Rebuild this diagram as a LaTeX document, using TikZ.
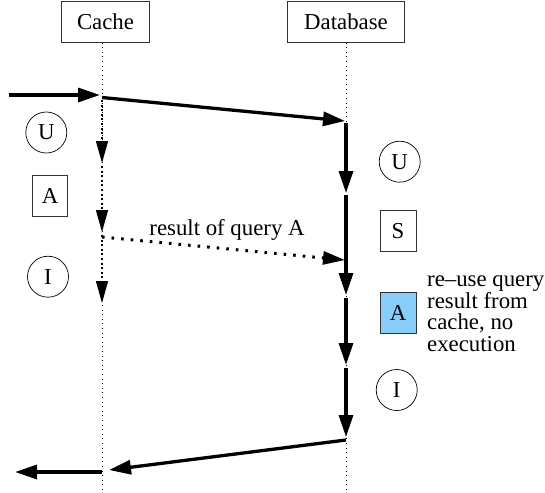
\documentclass[tikz,border=0pt]{standalone}
\usepackage{fontspec}
\setmainfont{Liberation Serif}
\usetikzlibrary{arrows.meta}

\definecolor{reuseblue}{RGB}{135,206,250}

\tikzset{
  headbox/.style={draw=black!80, line width=0.8pt, minimum height=41pt, inner sep=0pt},
  opbox/.style={draw=black!80, line width=0.8pt, minimum width=35pt, minimum height=41pt, inner sep=0pt},
  opcircle/.style={draw, circle, line width=0.7pt, minimum size=41pt, inner sep=0pt},
  lifeline/.style={line width=0.9pt, dash pattern=on 1pt off 3.6pt},
  flow/.style={line width=3.3pt, -{Triangle[length=22pt,width=14pt]}},
  cacheflow/.style={line width=1.4pt, dash pattern=on 2pt off 2.6pt, -{Triangle[length=22pt,width=12pt]}},
  resultflow/.style={line width=3pt, dash pattern=on 2.6pt off 7pt, -{Triangle[length=22pt,width=13pt]}}
}

\begin{document}
\begin{tikzpicture}[x=1pt, y=-1pt, font=\fontsize{22.8}{21.8}\selectfont]
  \path[use as bounding box] (0,0) rectangle (545,492);

  % participants
  \node[headbox, minimum width=88pt] (cache) at (105.5,22.2) {Cache};
  \node[headbox, minimum width=116.4pt] (db) at (346,22.2) {Database};

  % lifelines
  \coordinate (cacheTop) at (102,42.7);
  \coordinate (cacheBot) at (102,492);
  \coordinate (dbTop) at (346,42.7);
  \coordinate (dbBot) at (346,492);
  \draw[lifeline] (cacheTop) -- (cacheBot);
  \draw[lifeline] (dbTop) -- (dbBot);

  % request enters the cache and is forwarded
  \coordinate (src) at (9,95);
  \coordinate (cacheIn) at (100,95);
  \draw[flow] (src) -- (cacheIn);
  \coordinate (cacheFwd) at (102,97.5);
  \coordinate (dbIn) at (345,121);
  \draw[flow] (cacheFwd) -- (dbIn);

  % cache-side steps
  \coordinate (c1) at (102,100);
  \coordinate (c2) at (102,163);
  \coordinate (c3) at (102,166);
  \coordinate (c4) at (102,232);
  \coordinate (c5) at (102,235);
  \coordinate (c6) at (102,303);
  \draw[cacheflow] (c1) -- (c2);
  \draw[cacheflow] (c3) -- (c4);
  \draw[cacheflow] (c5) -- (c6);

  \node[opcircle] (cu) at (46.3,132.5) {U};
  \node[opbox] (ca) at (50,196.3) {A};
  \node[opcircle] (ci) at (48,276.7) {I};

  % database-side steps
  \coordinate (d1) at (346,123);
  \coordinate (d2) at (346,193);
  \coordinate (d3) at (346,195);
  \coordinate (d4) at (346,295);
  \coordinate (d5) at (346,298);
  \coordinate (d6) at (346,365);
  \coordinate (d7) at (346,368);
  \coordinate (d8) at (346,437);
  \draw[flow] (d1) -- (d2);
  \draw[flow] (d3) -- (d4);
  \draw[flow] (d5) -- (d6);
  \draw[flow] (d7) -- (d8);

  \node[opcircle] (du) at (399.7,161.7) {U};
  \node[opbox, minimum width=36pt] (ds) at (398,231) {S};
  \node[opbox, minimum width=36pt, fill=reuseblue] (da) at (398,313) {A};
  \node[opcircle] (di) at (396.7,390) {I};

  % cached result handed to the database
  \coordinate (resFrom) at (102,237);
  \coordinate (resTo) at (345,260);
  \draw[resultflow] (resFrom) -- (resTo);
  \node[anchor=base] (reslabel) at (227,235) {result of query A};

  % note beside the re-used step (base anchor sits on the last line)
  \node[anchor=base west, align=left, inner sep=0pt] (note) at (427,351.7)
    {re–use query\\result from\\cache, no\\execution};

  % answer returned through the cache
  \coordinate (dbOut) at (346,440);
  \coordinate (cacheBack) at (109,470);
  \draw[flow] (dbOut) -- (cacheBack);
  \coordinate (cacheOut) at (102,472);
  \coordinate (sink) at (15,472);
  \draw[flow] (cacheOut) -- (sink);
\end{tikzpicture}
\end{document}
